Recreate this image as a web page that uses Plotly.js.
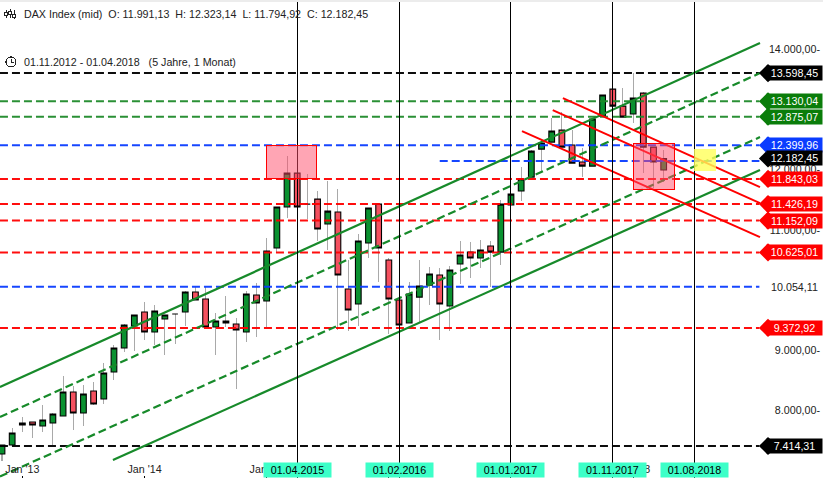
<!DOCTYPE html>
<html><head><meta charset="utf-8">
<script src="https://cdn.plot.ly/plotly-3.0.1.min.js"></script>
<style>html,body{margin:0;padding:0;background:#fff}#c{width:823px;height:478px}.shapelayer path{shape-rendering:crispEdges}</style>
</head><body><div id="c"></div>
<script>
// Monthly candles, Nov 2012 .. Apr 2018 (month index = position in these arrays)
const open  = [7281,7431,7762,7812,7746,7795,7911,8309,7961,8326,8193,8641,9039,9404,9636,9304,9520,9603,9636,9967,9851,9387,9487,9437,9304,9918,9818,10697,11377,11940,11426,11509,11095,11294,10017,9768,10780,11426,10498,9835,9453,9884,10083,10249,9735,10432,10630,10531,10730,10630,11410,11642,11874,12338,12454,12653,12405,12123,12056,12885,13333,13051,12919,13267,12371,11991.13];
const high  = [7431,7712,7895,7812,8094,7961,8575,8409,8425,8475,8790,9089,9437,9586,9802,9752,9586,9603,9984,10050,10050,9619,9901,9536,9984,10117,10863,11377,12222,11940,11924,11642,11808,11675,10498,10929,11360,11426,10531,9835,10133,10498,10382,10365,10398,10813,10796,10829,10813,11493,11592,12040,12322,12487,12852,12952,12653,12355,12852,13234,13333,13350,13598,13283,12371,12323.14];
const low   = [7165,7431,7646,7547,7646,7431,7911,7679,7746,8094,8110,8508,8973,8989,9171,9089,8923,9105,9404,9835,9387,8923,9387,8359,9138,9221,9387,10614,11194,11377,11178,10813,10664,9337,9321,9404,10531,10133,9271,9404,9453,9453,9752,9171,9321,10100,10199,10365,10050,10415,11410,11476,11874,11957,12454,12371,12106,11874,12056,12885,13051,12869,12769,11940,11692,11794.92];
const close = [7431,7630,7795,7762,7845,7945,8309,7961,8276,8110,8624,9039,9420,9586,9304,9652,9586,9603,9967,9835,9387,9487,9453,9337,9934,9785,10647,11377,11940,11377,11426,11012,11310,10249,9669,10813,11360,10697,9851,9420,9934,10067,10266,9768,10332,10581,10531,10664,10630,11426,11592,11841,12305,12438,12637,12371,12106,12056,12836,13234,13051,12869,13184,12371,12123,12182.45];
const months = open.map((_, i) => i);

// Horizontal levels (tag value, drawn line value, text, colours)
const levelValues = [13598.45,13130.04,12875.07,12399.96,12182.45,11843.03,11426.19,11152.09,10625.01,10054.11,9372.92,7414.31];
const lineValues  = [13598.45,13130.04,12875.07,12399.96,12139,11843.03,11426.19,11152.09,10625.01,10054.11,9372.92,7414.31];
const levelLabels = ["13.598,45","13.130,04","12.875,07","12.399,96","12.182,45","11.843,03","11.426,19","11.152,09","10.625,01","10.054,11","9.372,92","7.414,31"];
const levelColors = ["#000000","#0a7d0a","#0a7d0a","#0a3cff","#000000","#ff0000","#ff0000","#ff0000","#ff0000","#0a3cff","#ff0000","#000000"];
const lineColors  = ["#000000","#1f8a2a","#1f8a2a","#0a3cff","#0a3cff","#ff0000","#ff0000","#ff0000","#ff0000","#0a3cff","#ff0000","#000000"];
const levelStart  = [-0.2,-0.2,-0.2,-0.2,43,-0.2,-0.2,-0.2,-0.2,-0.2,-0.2,-0.2];
const levelEnd = 74.4;

// Trend channels [x0, x1], [y0, y1]
const channelX = [[-0.2,74.46],[-0.2,74.46],[-0.2,74.46],[10.9,74.46]];
const channelY = [[8392,14096],[7895,13598],[6908,12537],[7182,11990]];
const channelDash = ["solid","8px,4px","8px,4px","solid"];
const downX = [[55.1,74.46],[54.1,74.46],[51.08,74.46]];
const downY = [[13184,11708],[12985,11443],[12637,10879]];

// Vertical date markers
const dateIdx = [29,39,50,60,68];
const dateLabels = ["01.04.2015","01.02.2016","01.01.2017","01.11.2017","01.08.2018"];

const xTickVals = [2,14,26,38,50,62];
const xTickText = ["Jan '13","Jan '14","Jan '15","","","Jan '18"];
const yTickVals = [14000,12000,11000,9000,8000,7000];
const yTickText = ["14.000,00-","12.000,00-","11.000,00-","9.000,00-","8.000,00-","7.000,00-"];

const FONT = "Liberation Sans, Arial, sans-serif";
const GREEN = "#0a9130", RED = "#f4505f";

const traces = [];
// wicks
traces.push({type:"bar", x:months, base:low, y:high.map((h,i)=>h-low[i]), width:0.1,
  marker:{color:"#a9a9a9", line:{width:0}}, hoverinfo:"skip", showlegend:false});
// bodies
traces.push({type:"candlestick", x:months, open:open, close:close,
  high:open.map((o,i)=>Math.max(o,close[i])), low:open.map((o,i)=>Math.min(o,close[i])),
  increasing:{line:{color:"#000",width:1.1},fillcolor:GREEN},
  decreasing:{line:{color:"#000",width:1.1},fillcolor:RED},
  whiskerwidth:0, hoverinfo:"skip", showlegend:false});
// levels
lineValues.forEach((v,i)=>traces.push({type:"scatter",mode:"lines",x:[levelStart[i],levelEnd],y:[v,v],
  line:{color:lineColors[i],width:2,dash:"8px,4px"},hoverinfo:"skip",showlegend:false,opacity:0.95}));
// channels
channelX.forEach((x,i)=>traces.push({type:"scatter",mode:"lines",x:x,y:channelY[i],
  line:{color:"#178a2a",width:2.2,dash:channelDash[i]},hoverinfo:"skip",showlegend:false}));
downX.forEach((x,i)=>traces.push({type:"scatter",mode:"lines",x:x,y:downY[i],
  line:{color:"#ff0000",width:2},hoverinfo:"skip",showlegend:false}));
// tag tips
const tagIdx = levelValues.map((_,i)=>i).filter(i=>i!==9);
traces.push({type:"scatter",mode:"markers",x:tagIdx.map(()=>75.25),y:tagIdx.map(i=>levelValues[i]),
  marker:{symbol:"diamond",size:14,color:tagIdx.map(i=>levelColors[i]),line:{width:0}},hoverinfo:"skip",showlegend:false});

const shapes = [];
const px = v=>v/823, py = v=>1-v/478;
shapes.push({type:"rect",xref:"paper",yref:"paper",x0:0,x1:1,y0:py(1.5),y1:1,fillcolor:"#ececec",line:{width:0},layer:"below"});
dateIdx.forEach(d=>shapes.push({type:"line",xref:"x",yref:"paper",x0:d,x1:d,y0:0,y1:0.995,line:{color:"#000",width:1},layer:"above"}));
shapes.push({type:"rect",xref:"x",yref:"y",x0:25.98,x1:30.94,y0:11843,y1:12400,fillcolor:"rgba(255,75,105,0.5)",line:{color:"#ff0000",width:1},layer:"above"});
shapes.push({type:"rect",xref:"x",yref:"y",x0:62.0,x1:66.1,y0:11675,y1:12438,fillcolor:"rgba(255,75,105,0.5)",line:{color:"#ff0000",width:1},layer:"above"});
shapes.push({type:"rect",xref:"x",yref:"y",x0:67.98,x1:70.14,y0:11974,y1:12338,fillcolor:"rgba(255,255,90,0.8)",line:{width:0},layer:"above"});
// header icons (page furniture)
[[6,10,18,12,15],[10,9,18,11,14],[14,10,19,14,17]].forEach(a=>{
  shapes.push({type:"line",xref:"paper",yref:"paper",x0:px(a[0]),x1:px(a[0]),y0:py(a[1]),y1:py(a[2]),line:{color:"#222",width:1}});
  shapes.push({type:"rect",xref:"paper",yref:"paper",x0:px(a[0]-1.5),x1:px(a[0]+1.5),y0:py(a[3]),y1:py(a[4]),fillcolor:"#fff",line:{color:"#222",width:1}});
});
shapes.push({type:"circle",xref:"paper",yref:"paper",x0:px(6),x1:px(16),y0:py(57),y1:py(67),line:{color:"#222",width:1.2},fillcolor:"rgba(0,0,0,0)"});
shapes.push({type:"path",xref:"paper",yref:"paper",path:`M ${px(11)} ${py(59)} L ${px(11)} ${py(62)} L ${px(14)} ${py(63)}`,line:{color:"#222",width:1}});

const annotations = [];
levelValues.forEach((v,i)=>{
  const plain = i===9;
  annotations.push({xref:"paper",yref:"y",x:1,xanchor:"right",y:v,yanchor:"middle",text:levelLabels[i],showarrow:false,
    width:55,height:14,align:"center",borderpad:0,bgcolor:plain?"#ffffff":levelColors[i],
    font:{family:FONT,size:10.7,color:plain?"#222":"#ffffff"}});
});
dateIdx.forEach((d,i)=>annotations.push({xref:"x",yref:"paper",x:d,xanchor:"center",y:0,yanchor:"bottom",text:dateLabels[i],showarrow:false,
  width:67,height:14,bgcolor:"#3cffc8",borderpad:0,font:{family:FONT,size:10.7,color:"#000"}}));
annotations.push({xref:"paper",yref:"paper",x:22/823,xanchor:"left",y:py(14),yanchor:"middle",showarrow:false,align:"left",
  text:"DAX Index (mid)\u00a0\u00a0O: 11.991,13\u00a0\u00a0H: 12.323,14\u00a0\u00a0L: 11.794,92\u00a0\u00a0C: 12.182,45",
  font:{family:FONT,size:10.7,color:"#222"}});
annotations.push({xref:"paper",yref:"paper",x:22/823,xanchor:"left",y:py(62),yanchor:"middle",showarrow:false,align:"left",
  text:"01.11.2012 - 01.04.2018\u00a0\u00a0\u00a0(5 Jahre, 1 Monat)",
  font:{family:FONT,size:10.7,color:"#222"}});

const layout = {
  width:823,height:478,margin:{l:0,r:0,t:0,b:0},paper_bgcolor:"#fff",plot_bgcolor:"#fff",
  showlegend:false,bargap:0,boxgap:0.2,
  xaxis:{type:"linear",range:[-0.196,80.65],showgrid:false,zeroline:false,showline:false,
    tickmode:"array",tickvals:xTickVals,ticktext:xTickText,ticks:"inside",ticklen:2,tickcolor:"#000",
    ticklabelposition:"inside",tickfont:{family:FONT,size:10.7,color:"#222"},rangeslider:{visible:false},fixedrange:true},
  yaxis:{type:"linear",side:"right",range:[6883.6,14810.6],showgrid:false,zeroline:false,showline:false,
    tickmode:"array",tickvals:yTickVals,ticktext:yTickText,ticks:"",
    ticklabelposition:"inside",tickfont:{family:FONT,size:10.7,color:"#222"},fixedrange:true},
  shapes,annotations
};
Plotly.newPlot("c",traces,layout,{displayModeBar:false,staticPlot:true});
</script></body></html>
